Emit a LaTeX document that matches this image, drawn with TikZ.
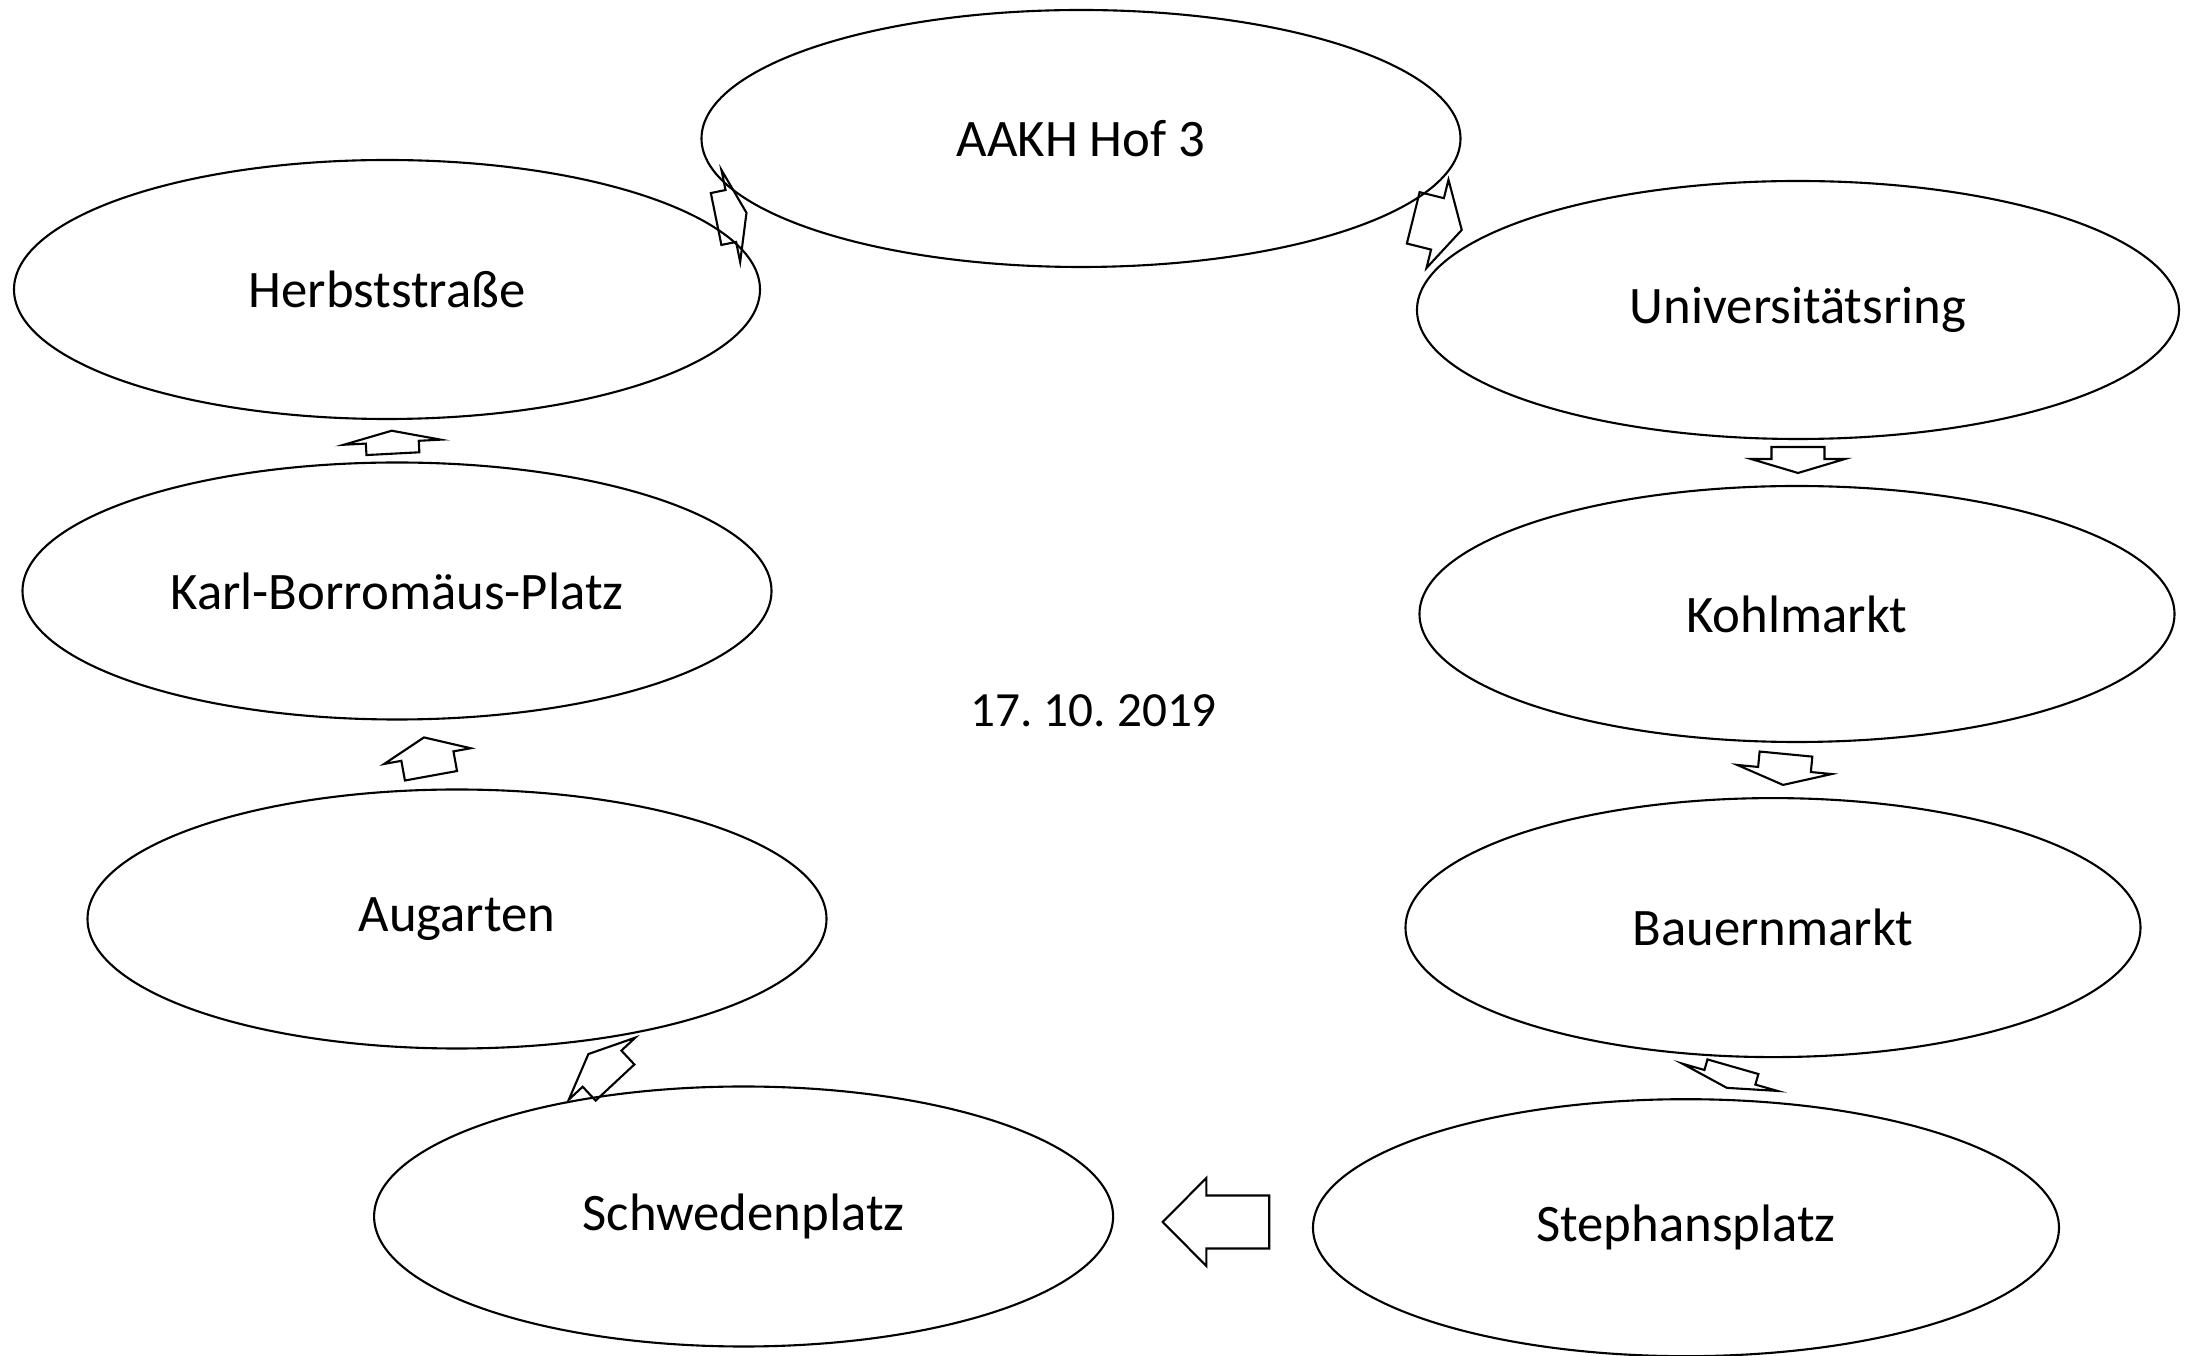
\documentclass[tikz,border=0pt]{standalone}
\usepackage{fontspec}
\setmainfont{Carlito}
\usetikzlibrary{shapes.geometric}
\frenchspacing

% Stile delle fermate
\tikzset{
  stop/.style={ellipse, draw, line width=0.6pt, inner sep=0pt,
    font=\fontsize{15}{18}\selectfont},
}

% Freccia a blocco: centro, angolo, lunghezza, lunghezza punta, larghezza punta
\newcommand{\blockarrow}[5]{%
  \begin{scope}[shift={#1}, rotate=#2, x=0.01cm, y=0.01cm]
    \draw[line width=0.6pt, line join=miter]
      ({-#3/2},-26.5) -- ({#3/2-#4},-26.5) -- ({#3/2-#4},{-#5/2})
      -- ({#3/2},0) -- ({#3/2-#4},{#5/2}) -- ({#3/2-#4},26.5)
      -- ({-#3/2},26.5) -- cycle;
  \end{scope}}

\begin{document}
\begin{tikzpicture}

  % Cornice del disegno
  \useasboundingbox (0,0) rectangle (22.04,13.56);

  % Fermate del percorso
  \node[stop, minimum width=7.59cm, minimum height=2.57cm] (hof) at (10.81,12.175) {AAKH Hof 3};
  \node[stop, minimum width=7.62cm, minimum height=2.58cm] (ring) at (17.98,10.46) {Universitätsring};
  \node[stop, minimum width=7.55cm, minimum height=2.56cm] (kohl) at (17.97,7.42) {Kohlmarkt};
  \node[stop, minimum width=7.35cm, minimum height=2.59cm] (bauer) at (17.73,4.284) {Bauernmarkt};
  \node[stop, minimum width=7.46cm, minimum height=2.57cm] (steph) at (16.86,1.283) {Stephansplatz};
  \node[stop, minimum width=7.39cm, minimum height=2.60cm] (schwed) at (7.436,1.395) {Schwedenplatz};
  \node[stop, minimum width=7.39cm, minimum height=2.59cm] (augart) at (4.57,4.37) {Augarten};
  \node[stop, minimum width=7.49cm, minimum height=2.57cm] (karl) at (3.97,7.65) {Karl-Borromäus-Platz};
  \node[stop, minimum width=7.46cm, minimum height=2.59cm] (herbst) at (3.87,10.665) {Herbststraße};

  % Data
  \node[font=\fontsize{14}{17}\selectfont] (datum) at (10.936,6.45) {17. 10. 2019};

  % Frecce tra le fermate
  \blockarrow{(7.313,11.401)}{11.5}{31}{16}{94}   % Herbststraße -> AAKH
  \blockarrow{(14.375,11.321)}{-14}{50}{25}{91}   % AAKH -> Universitätsring
  \blockarrow{(17.98,8.96)}{-90}{26}{14}{94}      % Universitätsring -> Kohlmarkt
  \blockarrow{(17.845,5.865)}{-95.5}{31}{15.5}{95} % Kohlmarkt -> Bauernmarkt
  \blockarrow{(17.299,2.787)}{-106}{22}{11}{99}   % Bauernmarkt -> Stephansplatz
  \blockarrow{(12.16,1.34)}{180}{106.6}{43.6}{88} % Stephansplatz -> Schwedenplatz
  \blockarrow{(6.017,2.877)}{133}{39}{20}{91}     % Schwedenplatz -> Augarten
  \blockarrow{(4.275,5.994)}{100.3}{39}{19}{88}   % Augarten -> Karl-Borromäus-Platz
  \blockarrow{(3.923,9.138)}{93}{23}{11.5}{97}    % Karl-Borromäus-Platz -> Herbststraße

\end{tikzpicture}
\end{document}
